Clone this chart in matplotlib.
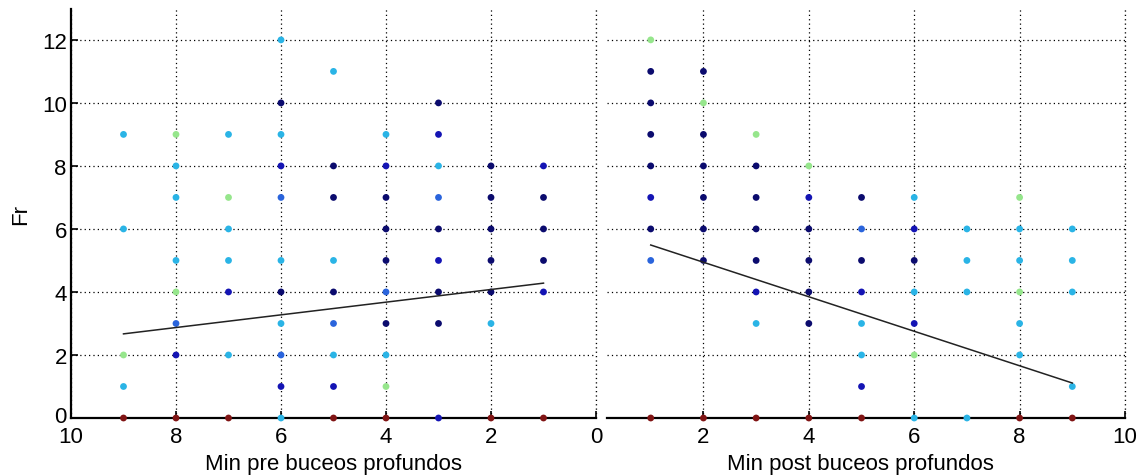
import matplotlib
matplotlib.use("Agg")
import matplotlib.pyplot as plt
import matplotlib.transforms as mtransforms

# ---------------- data ----------------
# level codes: N navy, B blue, M medium blue, C cyan, G light green, R dark red
pre_x = [9]*5 + [8]*8 + [7]*7 + [6]*11 + [5]*9 + [4]*10 + [3]*9 + [2]*7 + [1]*6
pre_y = [9, 6, 2, 1, 0,
         9, 8, 7, 5, 4, 3, 2, 0,
         9, 7, 6, 5, 4, 2, 0,
         12, 10, 9, 8, 7, 5, 4, 3, 2, 1, 0,
         11, 8, 7, 5, 4, 3, 2, 1, 0,
         9, 8, 7, 6, 5, 4, 3, 2, 1, 0,
         10, 9, 8, 7, 6, 5, 4, 3, 0,
         8, 7, 6, 5, 4, 3, 0,
         8, 7, 6, 5, 4, 0]
pre_lvl = list("CCGCR" "GCCCGMBR" "CGCCBCR" "CNCBMCNCMBC" "CNNCNMCBR"
               "CBNNNMNCGR" "NBCMNBNNB" "NNNNNCR" "BNNNBR")

post_x = [1]*9 + [2]*8 + [3]*8 + [4]*7 + [5]*8 + [6]*7 + [7]*4 + [8]*7 + [9]*5
post_y = [12, 11, 10, 9, 8, 7, 6, 5, 0,
          11, 10, 9, 8, 7, 6, 5, 0,
          9, 8, 7, 6, 5, 4, 3, 0,
          8, 7, 6, 5, 4, 3, 0,
          7, 6, 5, 4, 3, 2, 1, 0,
          7, 6, 5, 4, 3, 2, 0,
          6, 5, 4, 0,
          7, 6, 5, 4, 3, 2, 0,
          6, 5, 4, 1, 0]
post_lvl = list("GNNNNBNMR" "NGNNNNNR" "GNNNNBCR" "GBNNNNR" "NMNBCCBR"
                "CBNCBGC" "CCCC" "GCCGCCR" "CCCCR")

# fitted regression line end points
pre_fit_x = [9, 1]
pre_fit_y = [2.67, 4.28]
post_fit_x = [1, 9]
post_fit_y = [5.49, 1.11]

level_colors = {"N": "#0b0b6e", "B": "#1414b4", "M": "#2a64dc",
                "C": "#2ab4e6", "G": "#96e68c", "R": "#801414"}

xlabels = ["Min pre buceos profundos", "Min post buceos profundos"]
ylabel = "Fr"
yticks = [0, 2, 4, 6, 8, 10, 12]
xticks = [0, 2, 4, 6, 8, 10]

# ---------------- figure ----------------
plt.rcParams['font.family'] = ['Liberation Sans', 'DejaVu Sans']
W, H = 1143, 477
FS = 16
fig = plt.figure(figsize=(W/100, H/100), dpi=100)

def pos(x0, x1, y0, y1):
    return [x0/W, 1 - y1/H, (x1-x0)/W, (y1-y0)/H]

ax1 = fig.add_axes(pos(71, 596, 10, 419))
ax2 = fig.add_axes(pos(607, 1125, 10, 419))

grid_kw = dict(color="black", linestyle=(0, (1, 2.5)), linewidth=0.9)

def style(ax):
    ax.set_ylim(0, 12.98)
    ax.set_yticks(yticks)
    ax.set_xticks(xticks)
    for s in ["top", "right"]:
        ax.spines[s].set_visible(False)
    ax.spines["bottom"].set_linewidth(1.6)
    ax.spines["left"].set_linewidth(1.6)
    ax.tick_params(direction="in", length=5, width=1.2, labelsize=FS)
    ax.tick_params(axis="x", pad=6)
    ax.tick_params(axis="y", pad=3)
    ax.grid(True, **grid_kw)
    ax.set_axisbelow(True)

LABEL_Y = -0.112

style(ax1)
ax1.set_xlim(10, 0)
ax1.axvline(0, clip_on=False, **grid_kw)
ax1.set_ylabel(ylabel, fontsize=FS, labelpad=8)
ax1.set_xlabel(xlabels[0], fontsize=FS, va="center")
ax1.xaxis.set_label_coords(0.5, LABEL_Y)
ax1.scatter(pre_x, pre_y, c=[level_colors[l] for l in pre_lvl], s=24,
            linewidths=0, zorder=3, clip_on=False)
ax1.plot(pre_fit_x, pre_fit_y, color="#222222", linewidth=1.1, zorder=4)

# nudge the y "0" label up slightly, as in the reference
fig.canvas.draw()
ylab0 = ax1.get_yticklabels()[0]
ylab0.set_transform(ylab0.get_transform() +
                    mtransforms.ScaledTranslation(0, 4/100, fig.dpi_scale_trans))

style(ax2)
ax2.set_xlim(0.17, 10)
ax2.set_xticks([2, 4, 6, 8, 10])
ax2.spines["left"].set_visible(False)
ax2.tick_params(axis="y", left=False, labelleft=False)
ax2.axvline(10, clip_on=False, **grid_kw)
ax2.set_xlabel(xlabels[1], fontsize=FS, va="center")
ax2.xaxis.set_label_coords((860-607)/(1125-607), LABEL_Y)
ax2.scatter(post_x, post_y, c=[level_colors[l] for l in post_lvl], s=24,
            linewidths=0, zorder=3, clip_on=False)
ax2.plot(post_fit_x, post_fit_y, color="#222222", linewidth=1.1, zorder=4)

fig.savefig("out.png", dpi=100)
